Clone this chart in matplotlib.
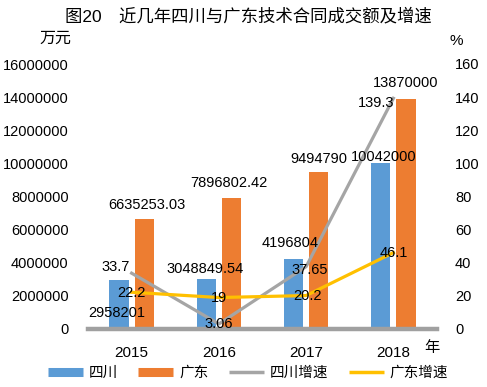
import matplotlib
matplotlib.use("Agg")
import matplotlib.pyplot as plt
from matplotlib.lines import Line2D
from matplotlib.transforms import ScaledTranslation
import numpy as np

plt.rcParams['font.family'] = ['Liberation Sans', 'Noto Sans CJK SC', 'DejaVu Sans']

years = ['2015', '2016', '2017', '2018']
sc_amount = [2958201, 3048849.54, 4196804, 10042000]
gd_amount = [6635253.03, 7896802.42, 9494790, 13870000]
sc_amount_labels = ['2958201', '3048849.54', '4196804', '10042000']
gd_amount_labels = ['6635253.03', '7896802.42', '9494790', '13870000']
sc_growth = [33.7, 3.06, 37.65, 139.3]
gd_growth = [22.2, 19, 20.2, 46.1]
sc_growth_labels = ['33.7', '3.06', '37.65', '139.3']
gd_growth_labels = ['22.2', '19', '20.2', '46.1']
legend_labels = ['四川', '广东', '四川增速', '广东增速']

C_BLUE = '#5B9BD5'
C_ORANGE = '#ED7D31'
C_GREY = '#A5A5A5'
C_YELLOW = '#FFC000'

W, H = 487, 387
fig = plt.figure(figsize=(W / 100, H / 100), dpi=100)
ax = fig.add_axes([88 / W, 58 / H, 349 / W, 265 / H])
ax2 = ax.twinx()

x = np.arange(len(years))
bw = 0.22
off = 0.145
ax.bar(x - off, sc_amount, bw, color=C_BLUE, zorder=2)
ax.bar(x + off, gd_amount, bw, color=C_ORANGE, zorder=2)
ax.axhline(0, color='#A0A0A0', lw=3.2, zorder=3, clip_on=False)

ax.set_xlim(-0.5, 3.5)
ax.set_ylim(0, 16000000)
ax.set_yticks(np.arange(0, 16000001, 2000000))
ax.set_yticklabels([str(v) for v in range(0, 16000001, 2000000)], fontsize=10.5)
ax.set_xticks(x)
ax.set_xticklabels(years, fontsize=11)
for lab in ax.get_xticklabels():
    lab.set_transform(lab.get_transform() + ScaledTranslation(-7 / 100, 0, fig.dpi_scale_trans))
ax.tick_params(axis='both', length=0)
ax.tick_params(axis='y', pad=14)
ax.tick_params(axis='x', pad=12)

ax2.plot(x, sc_growth, color=C_GREY, lw=2.3, zorder=3)
ax2.plot(x, gd_growth, color=C_YELLOW, lw=2.3, zorder=3)
ax2.set_ylim(0, 160)
ax2.set_yticks(np.arange(0, 161, 20))
ax2.set_yticklabels([str(v) for v in range(0, 161, 20)], fontsize=10.5)
ax2.tick_params(axis='y', length=0, pad=13)

for a in (ax, ax2):
    for s in a.spines.values():
        s.set_visible(False)

fs = 10.5
sc_off = [(-2, -33), (-1, 9.5), (-3, 16), (3, 6)]
gd_off = [(3, 14), (-3, 15), (0, 13), (0, 16)]
for i in range(4):
    ax2.annotate(sc_amount_labels[i], xy=(x[i] - off, sc_amount[i]), xycoords=ax.transData,
                 xytext=sc_off[i], textcoords='offset pixels', ha='center', va='center',
                 fontsize=fs, zorder=5)
    ax2.annotate(gd_amount_labels[i], xy=(x[i] + off, gd_amount[i]), xycoords=ax.transData,
                 xytext=gd_off[i], textcoords='offset pixels', ha='center', va='center',
                 fontsize=fs, zorder=5)

scg_off = [(-16, 6), (0, 0), (4, -3), (-17, -5)]
gdg_off = [(0, -1), (0, 0), (1, 0), (0, 0)]
for i in range(4):
    ax2.annotate(sc_growth_labels[i], xy=(x[i], sc_growth[i]), xytext=scg_off[i],
                 textcoords='offset pixels', ha='center', va='center', fontsize=fs, zorder=5)
    ax2.annotate(gd_growth_labels[i], xy=(x[i], gd_growth[i]), xytext=gdg_off[i],
                 textcoords='offset pixels', ha='center', va='center', fontsize=fs, zorder=5)

fig.text(248 / W, 1 - 16 / H, '图20\u3000近几年四川与广东技术合同成交额及增速',
         ha='center', va='center', fontsize=12.5)
fig.text(55 / W, 1 - 38 / H, '万元', ha='center', va='center', fontsize=11.5)
fig.text(456 / W, 1 - 41 / H, '%', ha='center', va='center', fontsize=11)
fig.text(432 / W, 1 - 348 / H, '年', ha='center', va='center', fontsize=11)

handles = [Line2D([], [], color=C_BLUE, lw=6.5, solid_capstyle='butt'),
           Line2D([], [], color=C_ORANGE, lw=6.5, solid_capstyle='butt'),
           Line2D([], [], color=C_GREY, lw=2.5, solid_capstyle='butt'),
           Line2D([], [], color=C_YELLOW, lw=2.5, solid_capstyle='butt')]
fig.legend(handles, legend_labels, loc='center', bbox_to_anchor=(248 / W, 1 - 373 / H),
           ncol=4, frameon=False, fontsize=10.5, handlelength=2.4, handletextpad=0.4,
           columnspacing=1.4)

fig.savefig('out.png', dpi=100)
